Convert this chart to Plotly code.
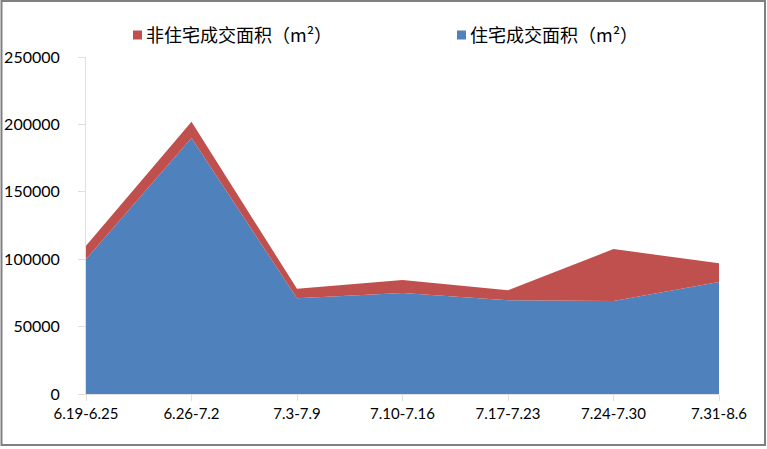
import plotly.graph_objects as go

categories = ["6.19-6.25", "6.26-7.2", "7.3-7.9", "7.10-7.16", "7.17-7.23", "7.24-7.30", "7.31-8.6"]
residential = [100000, 190000, 71000, 75000, 69500, 69000, 83000]
non_residential = [10000, 12000, 7000, 9500, 7500, 38500, 14000]
y_ticks = [0, 50000, 100000, 150000, 200000, 250000]
legend_names = ["非住宅成交面积（m²）", "住宅成交面积（m²）"]

BLUE = "#4F81BD"
RED = "#C0504D"

fig = go.Figure()
fig.add_trace(go.Scatter(
    x=categories, y=residential, stackgroup="one", mode="none",
    fillcolor=BLUE, name=legend_names[1], showlegend=False,
))
fig.add_trace(go.Scatter(
    x=categories, y=non_residential, stackgroup="one", mode="none",
    fillcolor=RED, name=legend_names[0], showlegend=False,
))

L, R, T, B = 86, 48, 57, 55
W, H = 767, 449
pw, ph = W - L - R, H - T - B

def px_x(p):
    return (p - L) / pw

def px_y(p):
    return (H - B - p) / ph

shapes = [dict(
    type="rect", xref="paper", yref="paper",
    x0=px_x(1.5), x1=px_x(765), y0=px_y(445), y1=px_y(1),
    line=dict(color="#808080", width=2), fillcolor="rgba(0,0,0,0)", layer="below",
)]
annotations = []
legend_items = [(legend_names[0], RED, 133), (legend_names[1], BLUE, 457)]
for name, color, x0 in legend_items:
    shapes.append(dict(
        type="rect", xref="paper", yref="paper",
        x0=px_x(x0), x1=px_x(x0 + 9), y0=px_y(39.5), y1=px_y(30.5),
        line=dict(width=0), fillcolor=color,
    ))
    annotations.append(dict(
        xref="paper", yref="paper", x=px_x(x0 + 11), y=px_y(34),
        xanchor="left", yanchor="middle", showarrow=False, text=name,
        font=dict(family="Noto Sans CJK SC", size=18, color="#000000"),
    ))

fig.update_layout(
    width=W, height=H,
    margin=dict(l=L, r=R, t=T, b=B, pad=0, autoexpand=False),
    paper_bgcolor="white", plot_bgcolor="white",
    font=dict(family="Lato, Liberation Sans, sans-serif", color="#000000"),
    showlegend=False,
    xaxis=dict(
        type="category", range=[0, 6], automargin=False,
        showgrid=False, showline=True, linecolor="#E0E0E0", linewidth=1,
        ticks="outside", ticklen=6, tickcolor="#E0E0E0",
        tickfont=dict(size=15), zeroline=False,
    ),
    yaxis=dict(
        range=[0, 250000], tickvals=y_ticks, ticktext=[str(v) for v in y_ticks],
        automargin=False,
        showgrid=False, showline=True, linecolor="#E0E0E0", linewidth=1,
        ticks="outside", ticklen=7, tickcolor="#E0E0E0",
        tickfont=dict(size=16), zeroline=False, ticklabelstandoff=15,
    ),
    shapes=shapes,
    annotations=annotations,
)

fig.write_html(
    "out.html",
    config={"displayModeBar": False},
    post_script="document.body.style.margin='0';document.body.style.padding='0';document.body.style.overflow='hidden';",
)
